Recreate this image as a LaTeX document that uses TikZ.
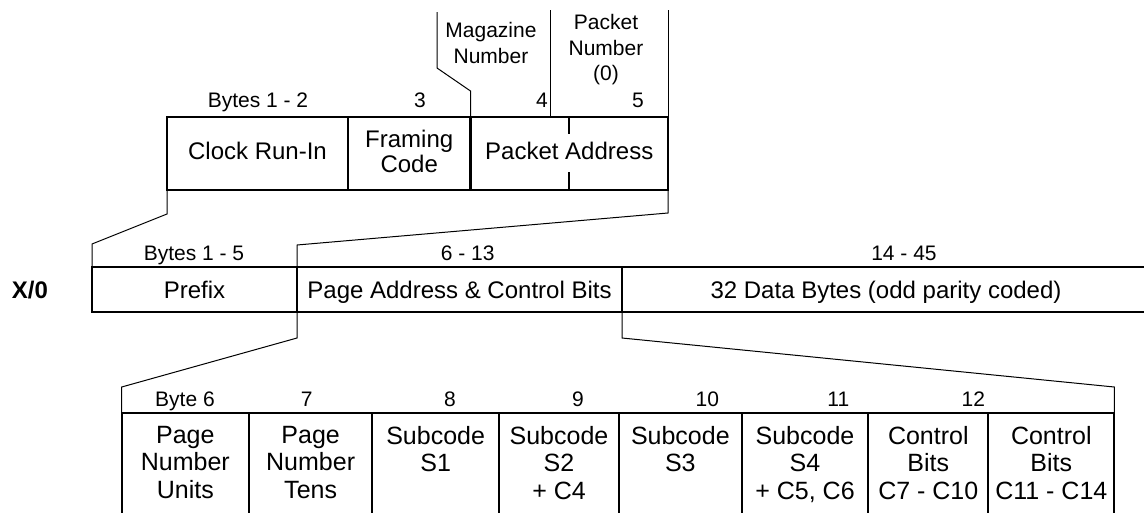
\documentclass[tikz,border=0pt]{standalone}
\usepackage{fontspec}
\setmainfont{Liberation Sans}
\usetikzlibrary{positioning}
\begin{document}
\begin{tikzpicture}[x=1pt,y=-1pt,inner sep=0pt,outer sep=0pt,
field/.style={draw,rectangle,line width=2.2pt,align=center,text depth=0pt,font=\fontsize{24}{25}\selectfont},
cell/.style={draw,rectangle,line width=2.2pt,minimum height=118pt},
celltext/.style={align=center,font=\fontsize{25}{27.5}\selectfont},
bytenum/.style={anchor=base,font=\fontsize{21}{21}\selectfont},
note/.style={anchor=north,align=center,font=\fontsize{21}{25.5}\selectfont},
fanline/.style={line width=1pt}]
\useasboundingbox (0,0) rectangle (1144,512);
\clip (0,0) rectangle (1144,512);
% header of the packet
\draw (257.5,153.5) node[field,text depth=5pt,minimum width=181pt,minimum height=73pt] (clock) {Clock Run-In};
\draw (409.25,153.5) node[field,text depth=5pt,minimum width=122.5pt,minimum height=73pt] (framing) {Framing\\Code};
\draw (569.25,153.5) node[field,text depth=5pt,minimum width=197.5pt,minimum height=73pt] (paddr) {Packet Address};
\draw[line width=2.2pt] (paddr.north) -- ++(0,16.5);
\draw[line width=2.2pt] (paddr.south) -- ++(0,-18);
\node[bytenum] (hb12) at (258,107.5) {Bytes 1 - 2};
\node[bytenum] (hb3) at (420,107.5) {3};
\node[bytenum] (hb4) at (542,107.5) {4};
\node[bytenum] (hb5) at (638,107.5) {5};
\node[note] (magno) at (491,22.5) {Magazine\\Number};
\node[note] (pktno) at (606,14.5) {Packet\\Number\\(0)};
\draw[fanline] (paddr.north west) -- ++(0,-26) -- ++(-33.5,-23) -- ++(0,-56);
\draw[fanline] (paddr.north west) ++(79.5,0) -- ++(0,-107);
\draw[fanline] (paddr.north east) -- ++(0,-107);
% the X/0 packet
\node[font=\bfseries\fontsize{24}{24}\selectfont,text depth=0pt] (xzero) at (30,290) {X/0};
\draw (194.5,289.5) node[field,minimum width=205pt,minimum height=45pt] (prefix) {Prefix};
\draw (459.5,289.5) node[field,minimum width=325pt,minimum height=45pt] (pagectl) {Page Address \& Control Bits};
\draw (886,289.5) node[field,minimum width=528pt,minimum height=45pt] (data) {32 Data Bytes (odd parity coded)};
\node[bytenum] (mb15) at (194,260) {Bytes 1 - 5};
\node[bytenum] (mb613) at (467.7,260) {6 - 13};
\node[bytenum] (mb1445) at (904,260) {14 - 45};
\draw[fanline] (clock.south west) -- ++(0,24) -- ++(-75,30) -- (prefix.north west);
\draw[fanline] (paddr.south east) -- ++(0,23) -- ++(-371,32) -- (pagectl.north west);
% page address and control bytes
\draw (185.35,471.7) node[cell,minimum width=127.3pt] (bunits) {};
\draw (310.65,471.7) node[cell,minimum width=123.3pt] (btens) {};
\draw (435.65,471.7) node[cell,minimum width=126.7pt] (bsone) {};
\draw (559,471.7) node[cell,minimum width=120pt] (bstwo) {};
\draw (680.35,471.7) node[cell,minimum width=122.7pt] (bsthree) {};
\draw (805,471.7) node[cell,minimum width=126.6pt] (bsfour) {};
\draw (928.3,471.7) node[cell,minimum width=120pt] (bctl1) {};
\draw (1051.3,471.7) node[cell,minimum width=126pt] (bctl2) {};
\node[celltext,below=13.5pt of bunits.north] (tunits) {Page\\Number\\Units};
\node[celltext,below=13.5pt of btens.north] (ttens) {Page\\Number\\Tens};
\node[celltext,below=13.5pt of bsone.north] (tsone) {Subcode\\S1};
\node[celltext,below=13.5pt of bstwo.north] (tstwo) {Subcode\\S2\\+ C4};
\node[celltext,below=13.5pt of bsthree.north] (tsthree) {Subcode\\S3};
\node[celltext,below=13.5pt of bsfour.north] (tsfour) {Subcode\\S4\\+ C5, C6};
\node[celltext,below=13.5pt of bctl1.north] (tctl1) {Control\\Bits\\C7 - C10};
\node[celltext,below=13.5pt of bctl2.north] (tctl2) {Control\\Bits\\C11 - C14};
\node[bytenum] (lb6) at (185,406) {Byte 6};
\node[bytenum] (lb7) at (306.7,406) {7};
\node[bytenum] (lb8) at (450,406) {8};
\node[bytenum] (lb9) at (578,406) {9};
\node[bytenum] (lb10) at (707.3,406) {10};
\node[bytenum] (lb11) at (838.3,406) {11};
\node[bytenum] (lb12) at (973.3,406) {12};
\draw[fanline] (pagectl.south west) -- ++(0,26) -- ++(-175.3,49) -- (bunits.north west);
\draw[fanline] (pagectl.south east) -- ++(0,26) -- ++(492.3,49) -- (bctl2.north east);
\end{tikzpicture}
\end{document}
